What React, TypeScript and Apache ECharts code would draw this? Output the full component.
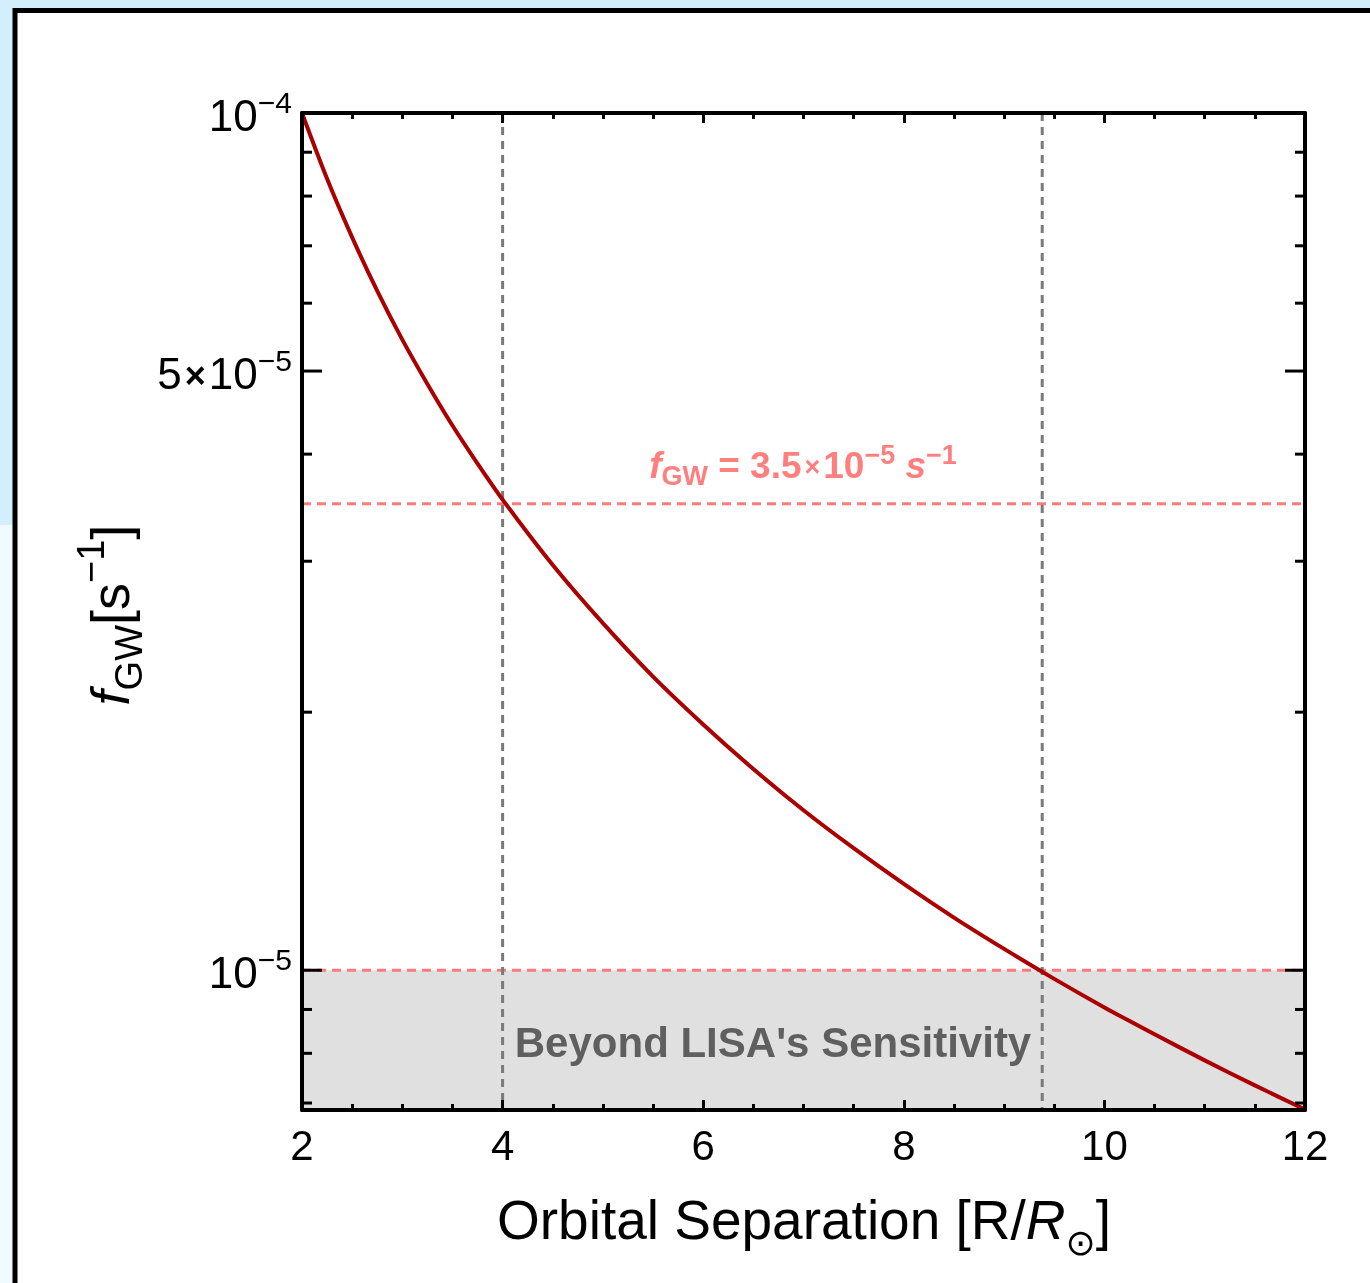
import React, { useEffect, useRef } from "react";
import * as echarts from "echarts";

// ---- data ----
const separation = [
  2, 2.25, 2.5, 2.75, 3, 3.25, 3.5, 3.75, 4, 4.5, 5, 5.5, 6, 6.5, 7, 7.5, 8, 8.5, 9, 9.5, 10, 10.5, 11, 11.5, 12,
];
const fgw = [
  1.0e-4, 8.38e-5, 7.16e-5, 6.2e-5, 5.44e-5, 4.83e-5, 4.32e-5, 3.9e-5, 3.54e-5, 2.97e-5, 2.54e-5,
  2.2e-5, 1.935e-5, 1.717e-5, 1.537e-5, 1.388e-5, 1.261e-5, 1.152e-5, 1.059e-5, 9.77e-6, 9.05e-6, 8.42e-6,
  7.85e-6, 7.34e-6, 6.88e-6,
];
const X_MIN = 2;
const X_MAX = 12;
const Y_MIN = 6.87e-6;
const Y_MAX = 1e-4;
const yTickMajor = [1e-5, 5e-5, 1e-4];
const yTickMinor = [7e-6, 8e-6, 9e-6, 2e-5, 3e-5, 4e-5, 6e-5, 7e-5, 8e-5, 9e-5];
const yTickLabelValues = [1e-4, 5e-5, 1e-5];
const yTickLabels = ["{b|10}{s|−4}", "{b|5}{x|×}{b|10}{s|−5}", "{b|10}{s|−5}"];
const refLineY = [3.5e-5, 1e-5];
const refLineX = [4, 9.38];
const lisaLimit = 1e-5;

const FONT = "Liberation Sans, Arial, sans-serif";

export default function App() {
  const ref = useRef<HTMLDivElement>(null);
  useEffect(() => {
    if (!ref.current) return;
    const chart = echarts.init(ref.current, undefined, { renderer: "svg" });

    const axisLine = { show: true, onZero: false, lineStyle: { color: "#000", width: 4 } };

    const tickLabelRich = {
      b: { fontSize: 44, lineHeight: 56, fontFamily: FONT, color: "#000" },
      s: { fontSize: 30, fontFamily: FONT, color: "#000", verticalAlign: "top" },
      x: { fontSize: 36, fontFamily: FONT, fontWeight: "bold", color: "#000", padding: [4, 3, 0, 3] },
    };

    const option: any = {
      animation: false,
      grid: {
        left: 302,
        top: 113,
        width: 1003,
        height: 997,
        containLabel: false,
        outerBoundsMode: "none",
      },
      graphic: [
        { type: "rect", z: -10, shape: { x: 0, y: 0, width: 1370, height: 1283 }, style: { fill: "#f1fbff" } },
        { type: "rect", z: -10, shape: { x: 0, y: 0, width: 1370, height: 525 }, style: { fill: "#d3effb" } },
        {
          type: "rect",
          z: -9,
          shape: { x: 15, y: 10.5, width: 1400, height: 1400 },
          style: { fill: "#ffffff", stroke: "#000", lineWidth: 5 },
        },
        {
          type: "text",
          z: 50,
          x: 804,
          y: 1220,
          style: {
            text: "{n|Orbital Separation [R/}{i|R}{sub|⊙}{n|]}",
            align: "center",
            verticalAlign: "middle",
            rich: {
              n: { fontSize: 55, lineHeight: 80, fontFamily: FONT, fill: "#000" },
              i: { fontSize: 55, lineHeight: 80, fontFamily: FONT, fontStyle: "italic", fill: "#000" },
              sub: { fontSize: 36, fontFamily: "DejaVu Sans", fill: "#000", verticalAlign: "bottom" },
            },
          },
        },
        {
          type: "text",
          z: 50,
          x: 110,
          y: 615,
          rotation: Math.PI / 2,
          style: {
            text: "{i|f}{sub|GW}{n|[s}{sup|−1}{n|]}",
            align: "center",
            verticalAlign: "middle",
            rich: {
              n: { fontSize: 54, lineHeight: 76, fontFamily: FONT, fill: "#000" },
              i: { fontSize: 54, lineHeight: 76, fontFamily: FONT, fontStyle: "italic", fill: "#000" },
              sub: { fontSize: 38, fontFamily: FONT, fill: "#000", verticalAlign: "bottom" },
              sup: { fontSize: 38, fontFamily: FONT, fill: "#000", verticalAlign: "top" },
            },
          },
        },
        {
          type: "text",
          z: 50,
          x: 803,
          y: 465,
          style: {
            text: "{i|f}{sub|GW}{n| = 3.5}{x|×}{n|10}{sup|−5}{n| }{i|s}{sup|−1}",
            align: "center",
            verticalAlign: "middle",
            rich: {
              n: { fontSize: 37, lineHeight: 48, fontFamily: FONT, fontWeight: "bold", fill: "#ff7f7f" },
              i: { fontSize: 37, lineHeight: 48, fontFamily: FONT, fontWeight: "bold", fontStyle: "italic", fill: "#ff7f7f" },
              x: { fontSize: 27, fontFamily: FONT, fontWeight: "bold", fill: "#ff7f7f", padding: [4, 3, 0, 3] },
              sub: { fontSize: 27, fontFamily: FONT, fontWeight: "bold", fill: "#ff7f7f", verticalAlign: "bottom" },
              sup: { fontSize: 27, fontFamily: FONT, fontWeight: "bold", fill: "#ff7f7f", verticalAlign: "top" },
            },
          },
        },
        {
          type: "text",
          z: 50,
          x: 773,
          y: 1042,
          style: {
            text: "Beyond LISA's Sensitivity",
            align: "center",
            verticalAlign: "middle",
            fontSize: 42,
            fontWeight: "bold",
            fontFamily: FONT,
            fill: "#5f5f5f",
          },
        },
      ],
      xAxis: [
        {
          type: "value",
          min: X_MIN,
          max: X_MAX,
          interval: 2,
          position: "bottom",
          z: 10,
          axisLine,
          axisTick: { show: true, inside: true, length: 10, lineStyle: { color: "#000", width: 3 } },
          minorTick: { show: true, splitNumber: 4, length: 6, lineStyle: { color: "#000", width: 3 } },
          splitLine: { show: false },
          minorSplitLine: { show: false },
          axisLabel: { show: true, fontSize: 42, color: "#000", fontFamily: FONT, margin: 14 },
        },
        {
          type: "value",
          min: X_MIN,
          max: X_MAX,
          interval: 2,
          position: "top",
          z: 10,
          axisLine,
          axisTick: { show: true, inside: true, length: 10, lineStyle: { color: "#000", width: 3 } },
          minorTick: { show: true, splitNumber: 4, length: 6, lineStyle: { color: "#000", width: 3 } },
          splitLine: { show: false },
          minorSplitLine: { show: false },
          axisLabel: { show: false },
        },
      ],
      yAxis: [
        {
          type: "log",
          logBase: 10,
          min: Y_MIN,
          max: Y_MAX,
          position: "left",
          z: 10,
          axisLine,
          axisTick: { show: false },
          minorTick: { show: false },
          axisLabel: { show: false },
          splitLine: { show: false },
          minorSplitLine: { show: false },
        },
        {
          type: "log",
          logBase: 10,
          min: Y_MIN,
          max: Y_MAX,
          position: "right",
          z: 10,
          axisLine,
          axisTick: { show: false },
          minorTick: { show: false },
          axisLabel: { show: false },
          splitLine: { show: false },
          minorSplitLine: { show: false },
        },
      ],
      series: [
        {
          type: "custom",
          z: 1,
          silent: true,
          clip: false,
          data: [[X_MIN, lisaLimit]],
          renderItem: (_p: any, api: any) => {
            const tl = api.coord([X_MIN, api.value(1)]);
            const br = api.coord([X_MAX, Y_MIN]);
            return {
              type: "rect",
              shape: { x: tl[0], y: tl[1], width: br[0] - tl[0], height: br[1] - tl[1] },
              style: { fill: "#e0e0e0" },
            };
          },
        },
        {
          type: "custom",
          z: 3,
          silent: true,
          clip: false,
          data: [
            ...refLineY.map((v) => [X_MIN, v, 0]),
            ...refLineX.map((v) => [v, Y_MAX, 1]),
          ],
          renderItem: (_p: any, api: any) => {
            if (api.value(2) === 0) {
              const a = api.coord([X_MIN, api.value(1)]);
              const b = api.coord([X_MAX, api.value(1)]);
              return {
                type: "line",
                shape: { x1: a[0], y1: a[1], x2: b[0], y2: b[1] },
                style: { stroke: "#ff7b7b", lineWidth: 3, lineDash: [9, 6] },
              };
            }
            const a = api.coord([api.value(0), Y_MAX]);
            const b = api.coord([api.value(0), Y_MIN]);
            return {
              type: "line",
              shape: { x1: a[0], y1: a[1], x2: b[0], y2: b[1] },
              style: { stroke: "#7a7a7a", lineWidth: 3, lineDash: [8, 6] },
            };
          },
        },
        {
          type: "line",
          z: 5,
          clip: false,
          data: separation.map((x, i) => [x, fgw[i]]),
          smooth: 0.3,
          showSymbol: false,
          symbol: "none",
          lineStyle: { color: "#ab0000", width: 4, join: "round" },
        },
        {
          type: "custom",
          z: 12,
          silent: true,
          clip: false,
          data: [...yTickMajor.map((v) => [X_MIN, v, 1]), ...yTickMinor.map((v) => [X_MIN, v, 0])],
          renderItem: (_p: any, api: any) => {
            const v = api.value(1);
            const len = api.value(2) === 1 ? 20 : 10;
            const l = api.coord([X_MIN, v]);
            const r = api.coord([X_MAX, v]);
            return {
              type: "group",
              children: [
                { type: "line", shape: { x1: l[0], y1: l[1], x2: l[0] + len, y2: l[1] }, style: { stroke: "#000", lineWidth: 3 } },
                { type: "line", shape: { x1: r[0] - len, y1: r[1], x2: r[0], y2: r[1] }, style: { stroke: "#000", lineWidth: 3 } },
              ],
            };
          },
        },
        {
          type: "custom",
          z: 12,
          silent: true,
          clip: false,
          data: yTickLabelValues.map((v, i) => [X_MIN, v, i]),
          renderItem: (_p: any, api: any) => {
            const l = api.coord([X_MIN, api.value(1)]);
            return {
              type: "text",
              x: l[0] - 10,
              y: l[1] + 2,
              style: {
                text: yTickLabels[api.value(2)],
                align: "right",
                verticalAlign: "middle",
                rich: tickLabelRich,
              },
            };
          },
        },
      ],
    };
    chart.setOption(option);
    return () => chart.dispose();
  }, []);
  return (
    <div
      ref={ref}
      style={{ position: "fixed", left: 0, top: 0, width: 1370, height: 1283 }}
    />
  );
}
